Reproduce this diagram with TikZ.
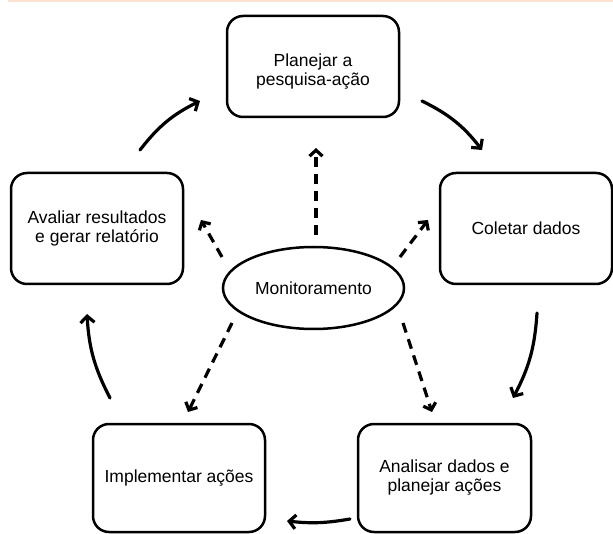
\documentclass[tikz,border=0pt]{standalone}
\usepackage{fontspec}
\setmainfont{Liberation Sans}
\usetikzlibrary{arrows.meta,shapes.geometric}
\definecolor{peach}{HTML}{FBE3CF}
\begin{document}
\begin{tikzpicture}[x=1pt,y=-1pt,
  txt/.style={align=center,font=\fontsize{17.5}{19}\selectfont},
  stage/.style={draw,line width=2.5pt,rounded corners=16pt,inner sep=0pt,txt},
  cyc/.style={line width=3.2pt,line cap=round,-{Straight Barb[length=6.5pt,width=14pt]}},
  mon/.style={line width=3.2pt,dash pattern=on 10pt off 7pt,-{Straight Barb[length=6pt,width=13pt]}}]
\useasboundingbox (0,0) rectangle (613,534);
% thin rule along the top edge
\draw[peach,line width=2pt] (8,0.8) -- (613,0.8);

% the five stages of the cycle
\node[stage,minimum width=172pt,minimum height=101pt,
  label={[txt,yshift=-5pt]center:{Planejar a\\pesquisa-ação}}] (plan) at (313,66.5) {};
\node[stage,minimum width=172pt,minimum height=111pt] (colet) at (526,228.5) {Coletar dados};
\node[stage,minimum width=173pt,minimum height=108pt] (anal) at (444.5,478) {Analisar dados e\\planejar ações};
\node[stage,minimum width=172pt,minimum height=108pt] (impl) at (179,478) {Implementar ações};
\node[stage,minimum width=172pt,minimum height=111pt] (aval) at (97,228.5) {Avaliar resultados\\e gerar relatório};

% central monitoring ellipse
\node[draw,ellipse,line width=2.5pt,minimum width=181pt,minimum height=82pt,inner sep=0pt,txt]
  (moni) at (313.5,288) {Monitoramento};

% end points of the cycle arrows
\coordinate (c1s) at (140,150); \coordinate (c1e) at (200,101);
\coordinate (c2s) at (422,101); \coordinate (c2e) at (482,150);
\coordinate (c3s) at (537,313); \coordinate (c3e) at (513,398);
\coordinate (c4s) at (350,519); \coordinate (c4e) at (287,521);
\coordinate (c5s) at (110,398); \coordinate (c5e) at (87,314);

\draw[cyc] (c1s) to[bend left=13] (c1e);
\draw[cyc] (c2s) to[bend left=13] (c2e);
\draw[cyc] (c3s) to[bend left=12] (c3e);
\draw[cyc] (c4s) to[bend left=8] (c4e);
\draw[cyc] (c5s) to[bend left=12] (c5e);

% end points of the monitoring arrows
\coordinate (m1s) at (316,235); \coordinate (m1e) at (316,148);
\coordinate (m2s) at (222,257); \coordinate (m2e) at (201,220);
\coordinate (m3s) at (400,257); \coordinate (m3e) at (428,220);
\coordinate (m4s) at (232,323); \coordinate (m4e) at (188,412);
\coordinate (m5s) at (403,323); \coordinate (m5e) at (432,412);

\draw[mon] (m1s) -- (m1e);
\draw[mon] (m2s) -- (m2e);
\draw[mon] (m3s) -- (m3e);
\draw[mon] (m4s) -- (m4e);
\draw[mon] (m5s) -- (m5e);
\end{tikzpicture}
\end{document}
